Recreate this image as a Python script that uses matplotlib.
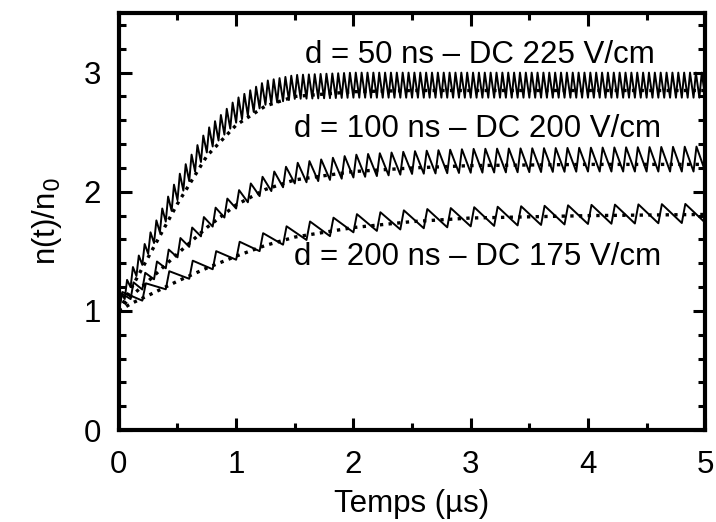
import numpy as np
import matplotlib
matplotlib.use("Agg")
import matplotlib.pyplot as plt
from matplotlib.ticker import MultipleLocator

plt.rcParams["font.family"] = ["Liberation Sans", "DejaVu Sans"]

# envelope sample times (µs)
t_env = [0.0, 0.1, 0.25, 0.5, 0.75, 1.0, 1.25, 1.5, 2.0, 2.5, 3.0, 4.0, 5.0]

# d = 50 ns - DC 225 V/cm
low_50 = [1.00, 1.20, 1.48, 1.93, 2.33, 2.58, 2.73, 2.78, 2.79, 2.79, 2.79, 2.79, 2.79]
high_50 = [1.10, 1.33, 1.62, 2.12, 2.52, 2.78, 2.93, 2.98, 3.00, 3.00, 3.00, 3.00, 3.00]
mean_50 = [1.00, 1.18, 1.45, 1.90, 2.30, 2.56, 2.72, 2.80, 2.84, 2.85, 2.85, 2.85, 2.85]

# d = 100 ns - DC 200 V/cm
low_100 = [1.00, 1.10, 1.22, 1.45, 1.67, 1.86, 1.99, 2.07, 2.12, 2.15, 2.16, 2.17, 2.17]
high_100 = [1.12, 1.22, 1.34, 1.59, 1.81, 2.00, 2.14, 2.24, 2.31, 2.34, 2.36, 2.37, 2.38]
mean_100 = [1.00, 1.12, 1.25, 1.48, 1.70, 1.89, 2.02, 2.10, 2.17, 2.20, 2.22, 2.23, 2.23]

# d = 200 ns - DC 175 V/cm
low_200 = [1.00, 1.04, 1.11, 1.23, 1.33, 1.43, 1.52, 1.58, 1.66, 1.69, 1.71, 1.73, 1.74]
high_200 = [1.15, 1.18, 1.24, 1.37, 1.47, 1.57, 1.66, 1.73, 1.81, 1.85, 1.87, 1.89, 1.90]
mean_200 = [1.00, 1.06, 1.13, 1.25, 1.36, 1.46, 1.55, 1.62, 1.70, 1.75, 1.78, 1.80, 1.81]

periods = [0.05, 0.10, 0.20]
rise_times = [0.02, 0.025, 0.03]
labels = [
    "d = 50 ns \u2013 DC 225 V/cm",
    "d = 100 ns \u2013 DC 200 V/cm",
    "d = 200 ns \u2013 DC 175 V/cm",
]
label_x = [1.59, 1.49, 1.49]
label_y = [3.08, 2.46, 1.385]


def sawtooth(period, rise, low, high):
    # pulse every period: fast rise to the upper envelope, slow decay to the lower one
    n = int(round(5.0 / period))
    ts, ys = [], []
    for k in range(n):
        t0 = k * period
        ts += [t0, t0 + rise]
        ys += [np.interp(t0, t_env, low), np.interp(t0 + rise, t_env, high)]
    ts.append(5.0)
    ys.append(np.interp(5.0, t_env, low))
    return ts, ys


fig = plt.figure(figsize=(7.16, 5.22), dpi=100)
ax = fig.add_axes([0.166, 0.176, 0.819, 0.799])

series = [(low_50, high_50, mean_50), (low_100, high_100, mean_100), (low_200, high_200, mean_200)]
for (low, high, mean), p, r in zip(series, periods, rise_times):
    ts, ys = sawtooth(p, r, low, high)
    ax.plot(ts, ys, color="black", linewidth=1.4, zorder=3)
    ax.plot(t_env, mean, color="black", linewidth=2.4, linestyle=(0, (1, 1.6)),
            dash_capstyle="butt", zorder=2)

for text, x, y in zip(labels, label_x, label_y):
    ax.text(x, y, text, fontsize=22.5, ha="left", va="baseline")

ax.set_xlim(0, 5)
ax.set_ylim(0, 3.5)
ax.xaxis.set_major_locator(MultipleLocator(1))
ax.xaxis.set_minor_locator(MultipleLocator(0.5))
ax.yaxis.set_major_locator(MultipleLocator(1))
ax.yaxis.set_minor_locator(MultipleLocator(0.2))
ax.tick_params(which="both", direction="in", top=True, right=True, labelsize=22.5)
ax.tick_params(axis="x", which="both", pad=14)
ax.tick_params(axis="y", which="both", pad=13)
ax.tick_params(which="major", length=9, width=2.2)
ax.tick_params(which="minor", length=5, width=2.2)
for s in ax.spines.values():
    s.set_linewidth(3)

ax.set_xlabel("Temps (\u00b5s)", fontsize=22.5, labelpad=7)
ax.set_ylabel("n(t)/n$_0$", fontsize=22.5, labelpad=14)

fig.savefig("out.png", dpi=100)
